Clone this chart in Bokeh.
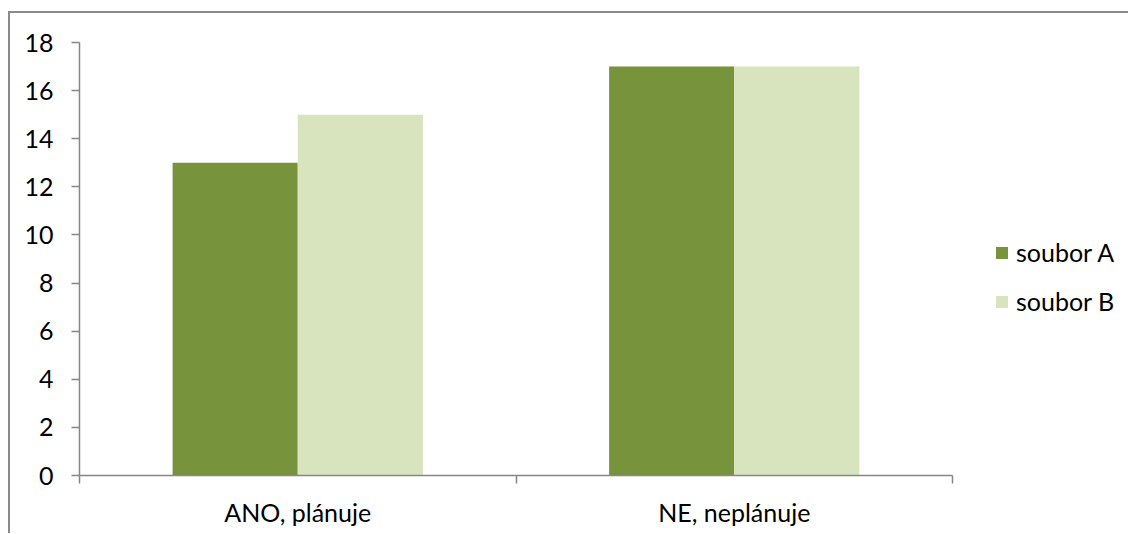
from bokeh.plotting import figure
from bokeh.models import Range1d, FixedTicker, Legend, LegendItem, LinearAxis
from bokeh.embed import file_html
from bokeh.resources import INLINE

categories = ["ANO, plánuje", "NE, neplánuje"]
series_names = ["soubor A", "soubor B"]
soubor_a = [13, 17]
soubor_b = [15, 17]
y_ticks = [0, 2, 4, 6, 8, 10, 12, 14, 16, 18]

colors = ["#77933C", "#D7E4BD"]
FONT = "Lato"
FS = "25px"
GRID = "#868686"

p = figure(frame_width=873, frame_height=433,
           min_border_left=69, min_border_top=29, min_border_bottom=58, min_border_right=168,
           x_range=Range1d(0, len(categories)), y_range=Range1d(0, 18),
           output_backend="svg", toolbar_location=None, tools="",
           x_axis_type=None, y_axis_type=None)
p.styles = {"border-left": "2px solid #8a8a8a", "border-top": "2px solid #8a8a8a",
            "margin-top": "11px", "margin-left": "8px"}
p.outline_line_color = None
p.background_fill_color = "white"
p.border_fill_color = "white"

centers = [i + 0.5 for i in range(len(categories))]
bar_w = 0.2867
rA = p.vbar(x=[c - bar_w / 2 for c in centers], top=soubor_a, width=bar_w,
            fill_color=colors[0], line_color=None)
rB = p.vbar(x=[c + bar_w / 2 for c in centers], top=soubor_b, width=bar_w,
            fill_color=colors[1], line_color=None)

# y axis
yax = LinearAxis(ticker=FixedTicker(ticks=y_ticks))
yax.axis_line_color = GRID
yax.axis_line_width = 1.5
yax.major_tick_line_color = GRID
yax.major_tick_line_width = 1.5
yax.major_tick_out = 8
yax.major_tick_in = 0
yax.minor_tick_line_color = None
yax.major_label_standoff = 18
yax.major_label_text_font = FONT
yax.major_label_text_font_size = FS
yax.major_label_text_color = "black"
p.add_layout(yax, "left")

# x axis: labels at category centres, ticks at category boundaries
xax = LinearAxis(ticker=FixedTicker(ticks=centers, minor_ticks=list(range(len(categories) + 1))))
xax.major_label_overrides = {c: cat for c, cat in zip(centers, categories)}
xax.axis_line_color = GRID
xax.axis_line_width = 1.5
xax.major_tick_line_color = None
xax.major_tick_out = 8
xax.major_tick_in = 0
xax.minor_tick_line_color = GRID
xax.minor_tick_line_width = 1.5
xax.minor_tick_out = 8
xax.minor_tick_in = 0
xax.major_label_standoff = 13
xax.major_label_text_font = FONT
xax.major_label_text_font_size = FS
xax.major_label_text_color = "black"
p.add_layout(xax, "below")

p.xgrid.visible = False
p.ygrid.ticker = FixedTicker(ticks=y_ticks)
p.ygrid.grid_line_color = GRID
p.ygrid.grid_line_width = 1.5

legend = Legend(items=[LegendItem(label=series_names[0], renderers=[rA]),
                       LegendItem(label=series_names[1], renderers=[rB])],
                location=(42, 159), orientation="vertical")
legend.border_line_color = None
legend.background_fill_alpha = 0
legend.margin = 0
legend.padding = 0
legend.glyph_width = 15
legend.glyph_height = 15
legend.label_height = 30
legend.spacing = 19
legend.label_standoff = 7
legend.label_text_font = FONT
legend.label_text_font_size = FS
legend.label_text_color = "black"
legend.label_text_baseline = "middle"
p.add_layout(legend, "right")

open("out.html", "w").write(file_html(p, INLINE))
